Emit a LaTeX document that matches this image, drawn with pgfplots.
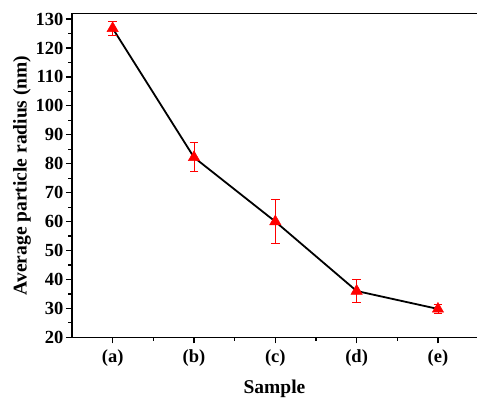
\documentclass[border=0pt]{standalone}
\usepackage{fontspec}
\setmainfont{Liberation Serif}
\usepackage{pgfplots}
\pgfplotsset{compat=1.18}
\begin{document}
\begin{tikzpicture}
\useasboundingbox (-72pt,-61pt) rectangle (405pt,337.3pt);
\begin{axis}[
  at={(0,0)}, anchor=south west,
  scale only axis,
  width=405pt, height=324pt,
  xmin=-0.5, xmax=4.48,
  ymin=20, ymax=132,
  axis x line=box, axis y line=left,
  axis line style={line width=1.5pt, -},
  xtick={0,1,2,3,4},
  xticklabels={(a),(b),(c),(d),(e)},
  minor xtick={0.5,1.5,2.5,3.5},
  ytick={20,30,...,130},
  minor ytick={25,35,...,125},
  tick pos=left,
  tick align=outside,
  major tick length=6pt,
  minor tick length=3.5pt,
  every tick/.style={line width=1.2pt, black},
  tick label style={font=\bfseries\fontsize{18.5}{20}\selectfont},
  yticklabel style={xshift=1pt},
  xticklabel style={yshift=-3pt},
  /pgf/number format/assume math mode=true,
  label style={font=\bfseries\fontsize{19.5}{22}\selectfont},
  xlabel={Sample},
  ylabel={Average particle radius (nm)},
  xlabel style={at={(ticklabel cs:0.5)}, anchor=north, yshift=-6pt},
  ylabel style={yshift=-2pt},
  clip=false,
]
\addplot[black, line width=1.8pt, mark=triangle*, mark size=6.5pt,
  mark options={red, fill=red, line width=0.5pt},
  error bars/.cd, y dir=both, y explicit,
  error bar style={red, line width=0.8pt},
  error mark options={rotate=90, red, mark size=4.3pt, line width=0.8pt}]
coordinates {
  (0,126.8) +- (0,2.5)
  (1,82.2) +- (0,5)
  (2,60.0) +- (0,7.5)
  (3,36.0) +- (0,4)
  (4,29.8) +- (0,1.5)
};
\end{axis}
\end{tikzpicture}
\end{document}
